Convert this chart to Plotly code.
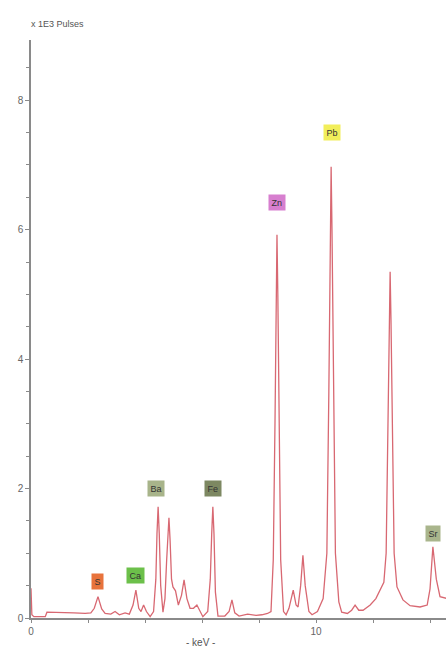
import plotly.graph_objects as go

# Spectrum: energy (keV) and counts (x1000 pulses)
energy_kev = [
    0.00, 0.03, 0.10, 0.50, 0.56, 1.00, 1.50, 1.90, 2.10, 2.22, 2.35, 2.48, 2.60,
    2.80, 2.95, 3.10, 3.30, 3.45, 3.58, 3.68, 3.78, 3.86, 3.95, 4.05, 4.18,
    4.30, 4.38, 4.42, 4.46, 4.50, 4.55, 4.63, 4.70, 4.76, 4.80, 4.84, 4.88, 4.93,
    4.98, 5.07, 5.17, 5.28, 5.37, 5.47, 5.58, 5.70, 5.82, 5.93, 6.03,
    6.20, 6.29, 6.34, 6.38, 6.42, 6.47, 6.56, 6.80, 6.95, 7.05, 7.15, 7.30,
    7.60, 7.90, 8.10, 8.30, 8.42, 8.50, 8.56, 8.60, 8.63, 8.66, 8.70, 8.76,
    8.86, 8.95, 9.05, 9.20, 9.30, 9.37, 9.46, 9.54, 9.62, 9.75, 9.86,
    10.05, 10.25, 10.38, 10.45, 10.50, 10.53, 10.56, 10.61, 10.68, 10.80, 10.90,
    11.10, 11.25, 11.37, 11.50, 11.65, 11.90, 12.10, 12.25, 12.38, 12.46, 12.53,
    12.57, 12.60, 12.63, 12.67, 12.74, 12.84, 13.05, 13.30, 13.65, 13.90,
    14.00, 14.10, 14.22, 14.35, 14.60,
]
counts_k = [
    0.46, 0.05, 0.02, 0.02, 0.09, 0.09, 0.08, 0.07, 0.08, 0.15, 0.33, 0.14, 0.07,
    0.06, 0.10, 0.05, 0.08, 0.06, 0.20, 0.43, 0.15, 0.10, 0.20, 0.10, 0.02,
    0.10, 0.60, 1.30, 1.72, 1.30, 0.50, 0.09, 0.30, 0.90, 1.35, 1.55, 1.20, 0.60,
    0.48, 0.42, 0.20, 0.35, 0.59, 0.30, 0.15, 0.15, 0.20, 0.10, 0.02,
    0.10, 0.60, 1.30, 1.72, 1.30, 0.40, 0.03, 0.03, 0.10, 0.28, 0.08, 0.03,
    0.06, 0.04, 0.05, 0.07, 0.10, 0.90, 3.00, 5.00, 5.92, 5.00, 3.00, 0.90,
    0.10, 0.05, 0.15, 0.43, 0.20, 0.17, 0.50, 0.97, 0.50, 0.10, 0.05,
    0.10, 0.30, 1.00, 3.50, 6.00, 6.97, 6.00, 3.50, 1.00, 0.25, 0.09,
    0.07, 0.12, 0.20, 0.12, 0.12, 0.20, 0.30, 0.43, 0.55, 1.00, 3.00,
    4.60, 5.35, 4.60, 3.00, 1.00, 0.48, 0.28, 0.19, 0.17, 0.20,
    0.45, 1.10, 0.60, 0.33, 0.30,
]

# Element labels: text, position (keV, kilo-pulses), box colour
label_text = ["S", "Ca", "Ba", "Fe", "Zn", "Pb", "Sr"]
label_kev = [2.35, 3.65, 4.40, 6.40, 8.63, 10.55, 14.10]
label_y = [0.56, 0.65, 2.00, 2.00, 6.42, 7.50, 1.31]
label_color = ["#e8733c", "#6cc04a", "#a8b48a", "#7d8862", "#d77fcf", "#f2ee5a", "#a9b58c"]

y_tick_vals = [0, 2, 4, 6, 8]
x_tick_vals = [0, 10]

fig = go.Figure()
fig.add_trace(go.Scatter(
    x=energy_kev, y=counts_k, mode="lines",
    line=dict(color="#d86872", width=1.3),
    hoverinfo="skip", showlegend=False,
))

for t, xk, yk, c in zip(label_text, label_kev, label_y, label_color):
    fig.add_annotation(
        x=xk, y=yk, xref="x", yref="y", text=t, showarrow=False,
        bgcolor=c, borderpad=2.5,
        font=dict(family="Arial, Liberation Sans, sans-serif", size=9, color="#333333"),
    )

fig.add_annotation(
    x=0, y=1.028, xref="paper", yref="paper", xanchor="left", yanchor="middle",
    text="x 1E3 Pulses", showarrow=False, xshift=-2,
    font=dict(family="Arial, Liberation Sans, sans-serif", size=9, color="#555555"),
)
fig.add_annotation(
    x=5.93, y=-0.043, xref="x", yref="paper", yanchor="middle",
    text="- keV -", showarrow=False,
    font=dict(family="Arial, Liberation Sans, sans-serif", size=10, color="#555555"),
)

axis_font = dict(family="Arial, Liberation Sans, sans-serif", size=10, color="#666666")

fig.update_layout(
    width=446, height=651,
    margin=dict(l=31, r=0, t=40, b=33, autoexpand=False),
    paper_bgcolor="white", plot_bgcolor="white",
    xaxis=dict(
        range=[0, 14.56], tickvals=x_tick_vals, ticktext=[str(v) for v in x_tick_vals],
        automargin=False,
        showgrid=False, zeroline=False, showline=True, linecolor="#8a8a8a", linewidth=1.5,
        ticks="outside", ticklen=3, tickcolor="#8a8a8a", tickfont=axis_font,
        minor=dict(dtick=2, tick0=0, ticks="outside", ticklen=3, tickcolor="#8a8a8a"),
    ),
    yaxis=dict(
        range=[0, 8.93], tickvals=y_tick_vals, ticktext=[str(v) for v in y_tick_vals],
        automargin=False,
        showgrid=False, zeroline=False, showline=True, linecolor="#8a8a8a", linewidth=1.5,
        ticks="outside", ticklen=4, tickcolor="#8a8a8a", tickfont=axis_font,
        minor=dict(dtick=0.5, tick0=0, ticks="outside", ticklen=3, tickcolor="#8a8a8a"),
    ),
)

fig.write_html(
    "out.html",
    config={"displayModeBar": False},
    post_script="document.body.style.margin='0px';document.body.style.overflow='hidden';",
)
